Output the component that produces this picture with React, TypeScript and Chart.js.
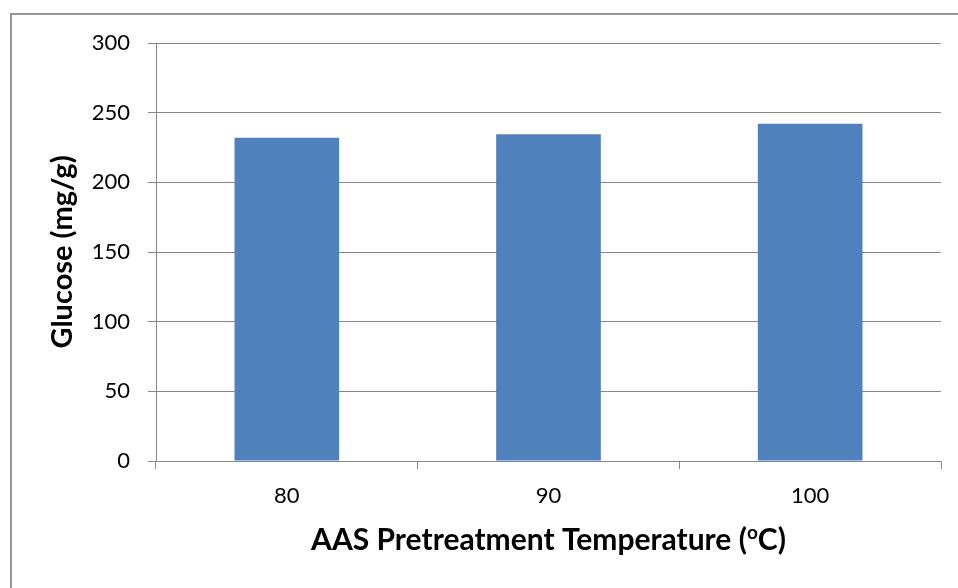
import React, { useEffect, useRef } from 'react';
import { Chart, registerables } from 'chart.js';

Chart.register(...registerables);

const categories = ['80', '90', '100'];
const glucoseValues = [232, 234.5, 242];
const yMin = 0;
const yMax = 300;
const yStep = 50;
const yTitle = 'Glucose (mg/g)';
const xTitleMain = 'AAS Pretreatment Temperature (';
const xTitleSup = 'o';
const xTitleEnd = 'C)';

const FONT = 'Lato, "Open Sans", sans-serif';
const AXIS = '#868686';
const BAR = '#4F81BD';

export default function App() {
  const ref = useRef<HTMLCanvasElement | null>(null);

  useEffect(() => {
    document.body.style.margin = '0';
    const canvas = ref.current;
    if (!canvas) return;

    const xTitlePlugin = {
      id: 'xTitleSup',
      afterDraw(chart: any) {
        const { ctx, chartArea } = chart;
        const cx = (chartArea.left + chartArea.right) / 2;
        const baseline = chartArea.bottom + 89;
        ctx.save();
        ctx.fillStyle = '#000';
        ctx.textBaseline = 'alphabetic';
        ctx.textAlign = 'left';
        const mainFont = `bold 30px ${FONT}`;
        const supFont = `bold 19px ${FONT}`;
        ctx.font = mainFont;
        const w1 = ctx.measureText(xTitleMain).width;
        const w3 = ctx.measureText(xTitleEnd).width;
        ctx.font = supFont;
        const w2 = ctx.measureText(xTitleSup).width;
        let x = cx - (w1 + w2 + w3) / 2;
        ctx.font = mainFont;
        ctx.fillText(xTitleMain, x, baseline);
        x += w1;
        ctx.font = supFont;
        ctx.fillText(xTitleSup, x, baseline - 11);
        x += w2;
        ctx.font = mainFont;
        ctx.fillText(xTitleEnd, x, baseline);
        ctx.restore();
      },
    };

    const chart = new Chart(canvas, {
      type: 'bar',
      data: {
        labels: categories,
        datasets: [
          {
            data: glucoseValues,
            backgroundColor: BAR,
            borderWidth: 0,
            barPercentage: 0.4,
            categoryPercentage: 1.0,
          },
        ],
      },
      plugins: [xTitlePlugin],
      options: {
        animation: false,
        responsive: true,
        maintainAspectRatio: false,
        layout: { padding: { top: 43, right: 17, left: 0, bottom: 0 } },
        plugins: {
          legend: { display: false },
          tooltip: { enabled: false },
        },
        scales: {
          x: {
            offset: true,
            afterFit: (scale: any) => {
              scale.height = 127;
            },
            grid: {
              display: true,
              offset: true,
              drawOnChartArea: false,
              drawTicks: true,
              tickLength: 8,
              color: AXIS,
              lineWidth: 1,
            },
            border: { display: true, color: AXIS, width: 1 },
            ticks: {
              color: '#000',
              font: { family: FONT, size: 22 },
              padding: 14,
            },
          },
          y: {
            min: yMin,
            max: yMax,
            afterFit: (scale: any) => {
              scale.width = 156;
            },
            grid: {
              color: AXIS,
              lineWidth: 1,
              drawTicks: true,
              tickLength: 8,
            },
            border: { display: true, color: AXIS, width: 1 },
            ticks: {
              stepSize: yStep,
              color: '#000',
              font: { family: FONT, size: 22 },
              padding: 18,
            },
            title: {
              display: true,
              text: yTitle,
              color: '#000',
              font: { family: FONT, size: 29, weight: 'bold' },
              padding: { top: 45, bottom: 0 },
            },
          },
        },
      },
    });

    return () => {
      chart.destroy();
    };
  }, []);

  return (
    <div
      style={{
        position: 'fixed',
        left: 0,
        top: 0,
        width: 958,
        height: 588,
        overflow: 'hidden',
        background: '#fff',
      }}
    >
      <div
        style={{
          position: 'absolute',
          left: 10,
          top: 13,
          width: 1000,
          height: 700,
          border: '2px solid #959595',
          boxSizing: 'border-box',
        }}
      />
      <div style={{ position: 'absolute', left: 0, top: 0, width: 958, height: 588 }}>
        <canvas ref={ref} />
      </div>
    </div>
  );
}
